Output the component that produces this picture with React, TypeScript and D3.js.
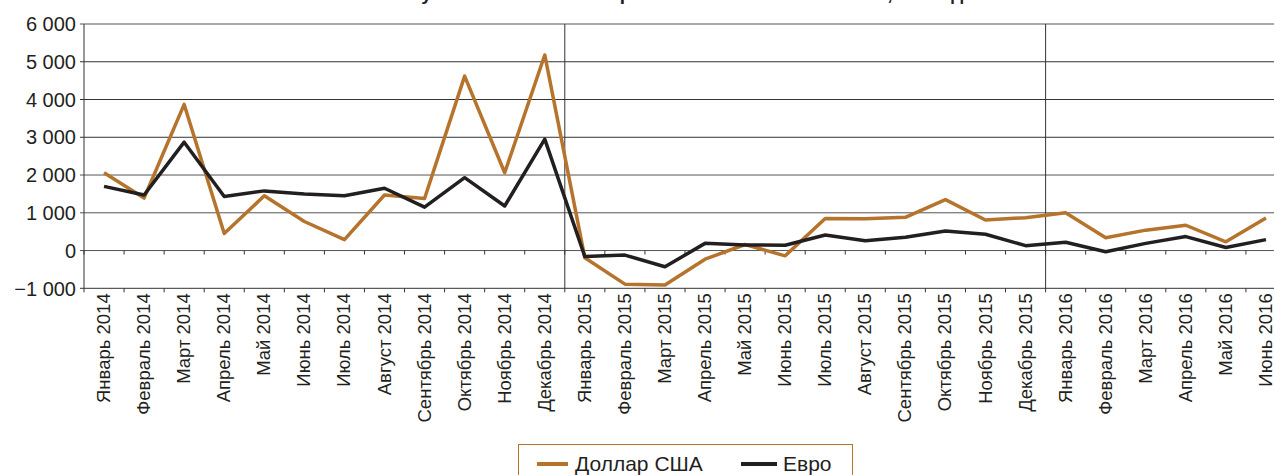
import React from 'react';
import * as d3 from 'd3';

const months = [
  'Январь 2014', 'Февраль 2014', 'Март 2014', 'Апрель 2014', 'Май 2014', 'Июнь 2014',
  'Июль 2014', 'Август 2014', 'Сентябрь 2014', 'Октябрь 2014', 'Ноябрь 2014', 'Декабрь 2014',
  'Январь 2015', 'Февраль 2015', 'Март 2015', 'Апрель 2015', 'Май 2015', 'Июнь 2015',
  'Июль 2015', 'Август 2015', 'Сентябрь 2015', 'Октябрь 2015', 'Ноябрь 2015', 'Декабрь 2015',
  'Январь 2016', 'Февраль 2016', 'Март 2016', 'Апрель 2016', 'Май 2016', 'Июнь 2016',
];

const usd = [
  2060, 1390, 3870, 450, 1450, 770, 290, 1470, 1380, 4620, 2060, 5180,
  -190, -890, -910, -230, 160, -140, 850, 840, 880, 1350, 810, 870,
  1000, 340, 540, 670, 230, 860,
];

const eur = [
  1700, 1470, 2870, 1430, 1580, 1500, 1450, 1650, 1150, 1930, 1180, 2950,
  -160, -120, -430, 190, 150, 140, 410, 260, 350, 520, 430, 130,
  220, -30, 190, 370, 80, 290,
];

const yTicks = [-1000, 0, 1000, 2000, 3000, 4000, 5000, 6000];
const yearStarts = ['Январь 2015', 'Январь 2016'];

// title sits mostly above the visible area, as in the source picture
const title = 'Чистая покупка наличной иностранной валюты населением, млн ед. валюты';

const W = 1274;
const H = 475;
const USD_COLOR = '#b5732c';
const EUR_COLOR = '#231f20';
const FONT = '"Liberation Sans", Arial, sans-serif';

export default function App() {
  const x = d3.scaleBand().domain(months).range([84, 1286]).padding(0);
  const y = d3.scaleLinear().domain([-1000, 6000]).range([288.3, 24]);
  const cx = (m: string) => (x(m) as number) + x.bandwidth() / 2;

  const line = d3.line<number>()
    .x((_, i) => cx(months[i]))
    .y(d => y(d));

  const fmt = (v: number) => {
    const s = d3.format(',')(Math.abs(v)).replace(/,/g, ' ');
    return (v < 0 ? '\u2212' : '') + s;
  };

  const left = 84;
  const right = W;

  return (
    <svg width={W} height={H} style={{ position: 'absolute', left: 0, top: 0, background: '#fff' }}
      fontFamily={FONT}>
      <text x={683} y={0} textAnchor="middle" fontSize={19} fontWeight="bold" fill="#231f20">
        {title}
      </text>

      {yTicks.map(t => (
        <g key={t}>
          <line x1={left - 4} x2={right} y1={y(t)} y2={y(t)}
            stroke={t === 6000 || t === 0 || t === 1000 || t === 2000 ? '#555' : '#333'} strokeWidth={1} />
          <text x={76} y={y(t)} dy="0.36em" textAnchor="end" fontSize={20} fill="#231f20">{fmt(t)}</text>
        </g>
      ))}

      <line x1={left} x2={left} y1={y(6000)} y2={y(-1000)} stroke="#333" strokeWidth={1} />

      {yearStarts.map(m => (
        <line key={m} x1={x(m) as number} x2={x(m) as number} y1={y(6000)} y2={y(-1000)}
          stroke="#333" strokeWidth={1} />
      ))}

      {months.map(m => (
        <g key={m}>
          <line x1={x(m) as number} x2={x(m) as number} y1={y(0)} y2={y(0) + 4} stroke="#333" />
          <line x1={x(m) as number} x2={x(m) as number} y1={y(-1000)} y2={y(-1000) + 4} stroke="#333" />
          <text transform={`translate(${cx(m) + 6},${y(-1000) + 5}) rotate(-90)`}
            textAnchor="end" fontSize={18.5} fill="#231f20">{m}</text>
        </g>
      ))}

      <path d={line(usd) ?? ''} fill="none" stroke={USD_COLOR} strokeWidth={3.5} strokeLinejoin="round" />
      <path d={line(eur) ?? ''} fill="none" stroke={EUR_COLOR} strokeWidth={3.5} strokeLinejoin="round" />

      <g>
        <rect x={518.5} y={444.5} width={334} height={40} fill="#fff" stroke={USD_COLOR} strokeWidth={1} />
        <line x1={537} x2={568} y1={464} y2={464} stroke={USD_COLOR} strokeWidth={4} />
        <text x={575} y={471} fontSize={21} fill="#231f20">Доллар США</text>
        <line x1={741} x2={777} y1={464} y2={464} stroke={EUR_COLOR} strokeWidth={4} />
        <text x={783} y={471} fontSize={21} fill="#231f20">Евро</text>
      </g>
    </svg>
  );
}
